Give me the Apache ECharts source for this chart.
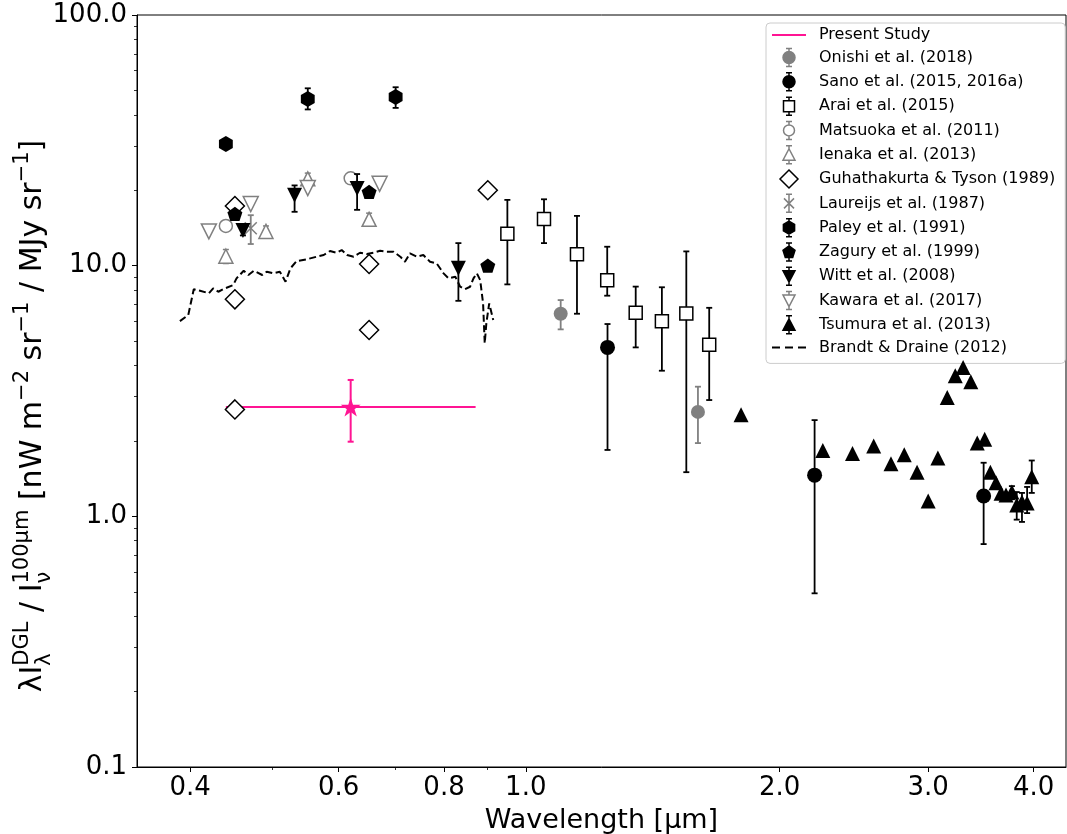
<!DOCTYPE html>
<html>
<head>
<meta charset="utf-8">
<script src="https://cdn.jsdelivr.net/npm/echarts@6/dist/echarts.min.js"></script>
<style>
html, body { margin: 0; padding: 0; background: #ffffff; }
#chart { width: 1067px; height: 834px; }
</style>
</head>
<body>
<div id="chart"></div>
<script>
// Wavelength in μm; ratios in nW m^-2 sr^-1 / MJy sr^-1
const presentWl = [0.62];
const presentVal = [2.73];
const presentWlLo = [0.441];
const presentWlHi = [0.872];
const presentLo = [1.985];
const presentHi = [3.50];

const onishiWl = [1.10, 1.60];
const onishiVal = [6.43, 2.61];
const onishiLo = [5.57, 1.96];
const onishiHi = [7.29, 3.29];

const sanoWl = [1.25, 2.20, 3.49];
const sanoVal = [4.72, 1.46, 1.205];
const sanoLo = [1.84, 0.493, 0.775];
const sanoHi = [5.85, 2.42, 1.636];

const araiWl = [0.951, 1.051, 1.15, 1.249, 1.35, 1.45, 1.55, 1.65];
const araiVal = [13.4, 15.35, 11.1, 8.74, 6.49, 6.0, 6.45, 4.84];
const araiLo = [8.42, 12.3, 6.43, 7.59, 4.72, 3.81, 1.50, 2.91];
const araiHi = [18.3, 18.4, 15.8, 11.9, 8.25, 8.2, 11.4, 6.79];

const matsuokaWl = [0.441, 0.620];
const matsuokaVal = [14.4, 22.3];

const ienakaWl = [0.441, 0.492, 0.5515, 0.652];
const ienakaVal = [10.9, 13.7, 22.2, 15.3];
const ienakaLo = [10.2, 13.0, 20.8, 14.4];
const ienakaHi = [11.6, 14.4, 23.4, 16.2];

const guhaWl = [0.452, 0.452, 0.452, 0.652, 0.652, 0.9015];
const guhaVal = [17.3, 7.34, 2.67, 10.15, 5.54, 20.0];

const laureijsWl = [0.472];
const laureijsVal = [14.1];
const laureijsLo = [12.2];
const laureijsHi = [15.9];

const paleyWl = [0.441, 0.5515, 0.701];
const paleyVal = [30.6, 46.2, 47.1];
const paleyLo = [29.3, 42.0, 42.6];
const paleyHi = [32.0, 51.0, 51.5];

const zaguryWl = [0.452, 0.652, 0.9015];
const zaguryVal = [16.1, 19.7, 10.0];

const wittWl = [0.462, 0.532, 0.631, 0.832];
const wittVal = [13.8, 19.1, 20.3, 9.76];
const wittLo = [13.2, 16.4, 16.7, 7.24];
const wittHi = [14.4, 20.9, 23.2, 12.3];

const kawaraWl = [0.421, 0.472, 0.5515, 0.671];
const kawaraVal = [13.7, 17.6, 20.4, 21.2];

const tsumuraWl = [1.80, 2.25, 2.44, 2.585, 2.71, 2.81, 2.91, 3.00, 3.08, 3.16, 3.23, 3.30,
  3.37, 3.43, 3.50, 3.555, 3.61, 3.66, 3.71, 3.77, 3.82, 3.875, 3.93, 3.98];
const tsumuraVal = [2.54, 1.83, 1.78, 1.91, 1.62, 1.76, 1.50, 1.15, 1.71, 2.98, 3.64, 3.92,
  3.44, 1.96, 2.03, 1.50, 1.36, 1.235, 1.216, 1.25, 1.11, 1.14, 1.13, 1.44];
const tsumuraLo = [null, null, null, null, null, null, null, null, null, null, null, null,
  null, null, null, null, null, null, null, 1.17, 0.97, 0.95, 1.03, 1.24];
const tsumuraHi = [null, null, null, null, null, null, null, null, null, null, null, null,
  null, null, null, null, null, null, null, 1.32, 1.25, 1.24, 1.31, 1.67];

const brandtWl = [0.389, 0.398, 0.404, 0.411, 0.421, 0.426, 0.432, 0.440, 0.450, 0.454, 0.463,
  0.469, 0.476, 0.487, 0.493, 0.502, 0.511, 0.519, 0.526, 0.535, 0.550, 0.565, 0.576, 0.586,
  0.597, 0.605, 0.614, 0.625, 0.636, 0.648, 0.660, 0.672, 0.684, 0.697, 0.710, 0.719, 0.729,
  0.743, 0.756, 0.770, 0.784, 0.799, 0.810, 0.825, 0.836, 0.847, 0.859, 0.867, 0.875, 0.883,
  0.890, 0.894, 0.898, 0.905, 0.915];
const brandtVal = [6.01, 6.36, 8.05, 7.94, 7.76, 8.12, 7.87, 8.12, 8.37, 8.90, 9.54,
  9.18, 9.54, 9.18, 9.46, 9.32, 9.46, 8.63, 9.76, 10.43, 10.60, 10.86, 11.03, 11.44,
  11.26, 11.54, 11.03, 10.86, 11.26, 11.13, 11.26, 11.47, 11.36, 11.36, 10.86, 10.37, 11.20,
  10.86, 11.03, 10.37, 10.21, 9.32, 8.90, 9.03, 8.24, 8.05, 8.24, 8.90, 9.32, 8.76,
  7.07, 4.90, 5.90, 7.07, 6.07];

const xMajorTicks = [0.4, 0.6, 0.8, 1.0, 2.0, 3.0, 4.0];
const xMinorTicks = [0.5, 0.7, 0.9];
const yMajorTicks = [0.1, 1.0, 10.0, 100.0];
const yMinorTicks = [0.2, 0.3, 0.4, 0.5, 0.6, 0.7, 0.8, 0.9, 2, 3, 4, 5, 6, 7, 8, 9,
  20, 30, 40, 50, 60, 70, 80, 90];
const xRange = [0.346, 4.37];
const yRange = [0.1, 100];

const legendNames = ['Present Study', 'Onishi et al. (2018)', 'Sano et al. (2015, 2016a)',
  'Arai et al. (2015)', 'Matsuoka et al. (2011)', 'Ienaka et al. (2013)',
  'Guhathakurta & Tyson (1989)', 'Laureijs et al. (1987)', 'Paley et al. (1991)',
  'Zagury et al. (1999)', 'Witt et al. (2008)', 'Kawara et al. (2017)',
  'Tsumura et al. (2013)', 'Brandt & Draine (2012)'];

// ---- styling ----
const FONT = 'DejaVu Sans';
const GREY = '#808080';
const BLACK = '#000000';
const PINK = '#ff1493';
const L = Math.log10;

const HEX = 'path://M50,0 L93.3,25 L93.3,75 L50,100 L6.7,75 L6.7,25 Z';
const PENT = 'path://M50,0 L97.55,34.55 L79.39,90.45 L20.61,90.45 L2.45,34.55 Z';
const STAR = 'path://M50,0 L61.2,34.5 L97.55,34.5 L68.2,55.9 L79.4,90.45 L50,69.1 L20.6,90.45 L31.8,55.9 L2.45,34.5 L38.8,34.5 Z';
const XMARK = 'path://M0,0 L10,10 M10,0 L0,10';

// legend icons: marker plus capped error bar, 18 px tall
const CAPS = (top, bot) => `M6,0 L6,${top} M6,${bot} L6,18 M3,0 L9,0 M3,18 L9,18`;
const ICON = {
  circle: 'path://M0,9 A6,6 0 1,1 12,9 A6,6 0 1,1 0,9 Z ' + CAPS(3, 15),
  square: 'path://M0.5,3.5 L11.5,3.5 L11.5,14.5 L0.5,14.5 Z ' + CAPS(3.5, 14.5),
  ring: 'path://M0.5,9 A5.5,5.5 0 1,1 11.5,9 A5.5,5.5 0 1,1 0.5,9 Z ' + CAPS(3.5, 14.5),
  tri: 'path://M6,3 L12,14.5 L0,14.5 Z ' + CAPS(3, 14.5),
  triDown: 'path://M0,3.5 L12,3.5 L6,15 Z ' + CAPS(3.5, 15),
  diamond: 'path://M9,0 L18,9 L9,18 L0,9 Z',
  cross: 'path://M1,4 L11,14 M11,4 L1,14 M6,0 L6,18 M3,0 L9,0 M3,18 L9,18',
  hex: 'path://M6,2.5 L11.6,5.75 L11.6,12.25 L6,15.5 L0.4,12.25 L0.4,5.75 Z ' + CAPS(2.5, 15.5),
  pent: 'path://M6,3 L12,7.4 L9.7,14.5 L2.3,14.5 L0,7.4 Z ' + CAPS(3, 14.5),
  line: 'path://M0,0 L34,0 L34,2 L0,2 Z',
  dash: 'path://M0,0 L8,0 L8,2 L0,2 Z M13,0 L21,0 L21,2 L13,2 Z M26,0 L34,0 L34,2 L26,2 Z'
};

function points(wl, val) {
  return wl.map((w, i) => [L(w), L(val[i])]);
}
function bars(wl, lo, hi) {
  const out = [];
  wl.forEach((w, i) => { if (lo[i] != null) out.push([L(w), L(lo[i]), L(hi[i])]); });
  return out;
}

function errorBars(name, data, color, width, z) {
  return {
    type: 'custom', name, data, z, silent: true, clip: true,
    encode: { x: 0, y: [1, 2] },
    renderItem(params, api) {
      const x = api.value(0);
      const a = api.coord([x, api.value(1)]);
      const b = api.coord([x, api.value(2)]);
      const st = { stroke: color, lineWidth: width };
      const cw = 3;
      return {
        type: 'group', children: [
          { type: 'line', shape: { x1: a[0], y1: a[1], x2: b[0], y2: b[1] }, style: st },
          { type: 'line', shape: { x1: a[0] - cw, y1: a[1], x2: a[0] + cw, y2: a[1] }, style: st },
          { type: 'line', shape: { x1: b[0] - cw, y1: b[1], x2: b[0] + cw, y2: b[1] }, style: st }
        ]
      };
    }
  };
}

function markers(name, data, symbol, size, fill, stroke, bw, z, rotate) {
  return {
    type: 'scatter', name, data, symbol, symbolSize: size, symbolKeepAspect: true,
    symbolRotate: rotate || 0, z, silent: true,
    itemStyle: { color: fill, borderColor: stroke, borderWidth: bw, opacity: 1 },
    emphasis: { disabled: true }
  };
}

const series = [];

// Present Study: horizontal band-width bar, vertical error bar, star marker
series.push({
  type: 'custom', name: legendNames[0], z: 2, silent: true,
  data: presentWl.map((w, i) => [L(w), L(presentVal[i]), L(presentWlLo[i]), L(presentWlHi[i]),
    L(presentLo[i]), L(presentHi[i])]),
  encode: { x: [0, 2, 3], y: [1, 4, 5] },
  renderItem(params, api) {
    const x = api.value(0), y = api.value(1);
    const l = api.coord([api.value(2), y]);
    const r = api.coord([api.value(3), y]);
    const lo = api.coord([x, api.value(4)]);
    const hi = api.coord([x, api.value(5)]);
    const st = { stroke: PINK, lineWidth: 2 };
    return {
      type: 'group', children: [
        { type: 'line', shape: { x1: l[0], y1: l[1], x2: r[0], y2: r[1] }, style: st },
        { type: 'line', shape: { x1: lo[0], y1: lo[1], x2: hi[0], y2: hi[1] }, style: st },
        { type: 'line', shape: { x1: lo[0] - 3, y1: lo[1], x2: lo[0] + 3, y2: lo[1] }, style: st },
        { type: 'line', shape: { x1: hi[0] - 3, y1: hi[1], x2: hi[0] + 3, y2: hi[1] }, style: st }
      ]
    };
  }
});
series.push(markers(legendNames[0], points(presentWl, presentVal), STAR, 20, PINK, PINK, 0, 3));

series.push(errorBars(legendNames[1], bars(onishiWl, onishiLo, onishiHi), GREY, 1.8, 4));
series.push(markers(legendNames[1], points(onishiWl, onishiVal), 'circle', 14, GREY, GREY, 0, 5));

series.push(errorBars(legendNames[2], bars(sanoWl, sanoLo, sanoHi), BLACK, 1.8, 6));
series.push(markers(legendNames[2], points(sanoWl, sanoVal), 'circle', 15, BLACK, BLACK, 0, 7));

series.push(errorBars(legendNames[3], bars(araiWl, araiLo, araiHi), BLACK, 1.8, 8));
series.push(markers(legendNames[3], points(araiWl, araiVal), 'rect', 13, '#ffffff', BLACK, 1.5, 9));

series.push(markers(legendNames[4], points(matsuokaWl, matsuokaVal), 'circle', 13, '#ffffff', GREY, 1.5, 11));

series.push(errorBars(legendNames[5], bars(ienakaWl, ienakaLo, ienakaHi), GREY, 1.5, 12));
series.push(markers(legendNames[5], points(ienakaWl, ienakaVal), 'triangle', 14, '#ffffff', GREY, 1.5, 13));

series.push(markers(legendNames[6], points(guhaWl, guhaVal), 'diamond', 19, '#ffffff', BLACK, 1.5, 15));

series.push(errorBars(legendNames[7], bars(laureijsWl, laureijsLo, laureijsHi), GREY, 1.8, 16));
series.push(markers(legendNames[7], points(laureijsWl, laureijsVal), XMARK, 12, 'rgba(0,0,0,0)', GREY, 1.5, 17));

series.push(errorBars(legendNames[8], bars(paleyWl, paleyLo, paleyHi), BLACK, 1.8, 18));
series.push(markers(legendNames[8], points(paleyWl, paleyVal), HEX, 16, BLACK, BLACK, 0, 19));

series.push(markers(legendNames[9], points(zaguryWl, zaguryVal), PENT, 15, BLACK, BLACK, 0, 21));

series.push(errorBars(legendNames[10], bars(wittWl, wittLo, wittHi), BLACK, 1.8, 22));
series.push(markers(legendNames[10], points(wittWl, wittVal), 'triangle', 15, BLACK, BLACK, 0, 23, 180));

series.push(markers(legendNames[11], points(kawaraWl, kawaraVal), 'triangle', 15, '#ffffff', GREY, 1.5, 25, 180));

series.push(errorBars(legendNames[12], bars(tsumuraWl, tsumuraLo, tsumuraHi), BLACK, 1.8, 26));
series.push(markers(legendNames[12], points(tsumuraWl, tsumuraVal), 'triangle', 15, BLACK, BLACK, 0, 27));

series.push({
  type: 'line', name: legendNames[13], z: 28, silent: true,
  data: points(brandtWl, brandtVal), showSymbol: false, symbol: 'none',
  lineStyle: { color: BLACK, width: 2, type: [7, 3.5] }, itemStyle: { color: BLACK },
  emphasis: { disabled: true }
});

const legendStyle = [
  [ICON.line, PINK, PINK, 0],
  [ICON.circle, GREY, GREY, 1.5],
  [ICON.circle, BLACK, BLACK, 1.5],
  [ICON.square, '#ffffff', BLACK, 1.5],
  [ICON.ring, '#ffffff', GREY, 1.5],
  [ICON.tri, '#ffffff', GREY, 1.5],
  [ICON.diamond, '#ffffff', BLACK, 1.5],
  [ICON.cross, 'rgba(0,0,0,0)', GREY, 1.5],
  [ICON.hex, BLACK, BLACK, 1.5],
  [ICON.pent, BLACK, BLACK, 1.5],
  [ICON.triDown, BLACK, BLACK, 1.5],
  [ICON.triDown, '#ffffff', GREY, 1.5],
  [ICON.tri, BLACK, BLACK, 1.5],
  [ICON.dash, BLACK, BLACK, 0]
];

const tickLabel = { fontFamily: FONT, fontSize: 26, color: '#000000' };
const fmt = v => Math.pow(10, v).toFixed(1);

function axisPair(dim, range, major, minor, labelMargin, extra) {
  const pos = dim === 'x' ? 'bottom' : 'left';
  const base = { type: 'value', min: L(range[0]), max: L(range[1]), position: pos, splitLine: { show: false } };
  return [
    Object.assign({}, base, {
      axisLine: { show: true, onZero: false, lineStyle: { color: '#000000', width: 1 } },
      axisTick: { show: true, inside: false, length: 5, lineStyle: { color: '#000000', width: 1 },
        customValues: major.map(L) },
      axisLabel: Object.assign({ show: true, customValues: major.map(L), formatter: fmt, margin: labelMargin }, tickLabel)
    }, extra),
    Object.assign({}, base, {
      axisLine: { show: false, onZero: false },
      axisTick: { show: true, inside: false, length: 3, lineStyle: { color: '#000000', width: 0.8 },
        customValues: minor.map(L) },
      axisLabel: { show: false }
    })
  ];
}

// y-axis title built from pieces with stacked scripts
function yTitle() {
  const F = 30, S = 21, SUP = -14, SUB = 8;
  const ctx = document.createElement('canvas').getContext('2d');
  const w = (t, s) => { ctx.font = s + 'px "' + FONT + '"'; return ctx.measureText(t).width; };
  const parts = [['λI'], ['DGL', 'λ'], [' / I'], ['100μm', 'ν'], [' [nW m'], ['−2', ''],
    [' sr'], ['−1', ''], [' / MJy sr'], ['−1', ''], [']']];
  const kids = [];
  let x = 0;
  const put = (t, s, base) => {
    kids.push({ type: 'text', x, y: base - 0.346 * s,
      style: { text: t, font: s + 'px "' + FONT + '"', fill: '#000000', align: 'left', verticalAlign: 'middle' } });
  };
  parts.forEach(p => {
    if (p.length === 1) { put(p[0], F, 0); x += w(p[0], F); }
    else {
      if (p[0]) put(p[0], S, SUP);
      if (p[1]) put(p[1], S, SUB);
      x += Math.max(w(p[0], S), p[1] ? w(p[1], S) : 0);
    }
  });
  return { type: 'group', x: 44, y: 416 + x / 2, rotation: Math.PI / 2, children: kids, silent: true };
}

const chart = echarts.init(document.getElementById('chart'), null, { renderer: 'canvas' });
chart.setOption({
  animation: false,
  backgroundColor: '#ffffff',
  grid: { left: 137, right: 1, top: 15, bottom: 67, show: true, borderColor: '#000000', borderWidth: 1,
    containLabel: false, outerBoundsMode: 'none' },
  xAxis: axisPair('x', xRange, xMajorTicks, xMinorTicks, 8, {
    name: 'Wavelength [μm]', nameLocation: 'middle', nameGap: 40, nameMoveOverlap: false,
    nameTextStyle: { fontFamily: FONT, fontSize: 27, color: '#000000' }
  }),
  yAxis: axisPair('y', yRange, yMajorTicks, yMinorTicks, 10, {}),
  legend: {
    orient: 'vertical', left: 766, top: 23, padding: [4, 10, 8, 6], itemGap: 4.8,
    itemWidth: 34, itemHeight: 18, selectedMode: false,
    backgroundColor: 'rgba(255,255,255,0.8)', borderColor: '#cccccc', borderWidth: 1, borderRadius: 4,
    textStyle: { fontFamily: FONT, fontSize: 16, color: '#000000', padding: [0, 0, 0, 8] },
    data: legendNames.map((n, i) => ({
      name: n, icon: legendStyle[i][0],
      itemStyle: { color: legendStyle[i][1], borderColor: legendStyle[i][2], borderWidth: legendStyle[i][3], opacity: 1 }
    }))
  },
  graphic: [yTitle()],
  series
});
</script>
</body>
</html>
